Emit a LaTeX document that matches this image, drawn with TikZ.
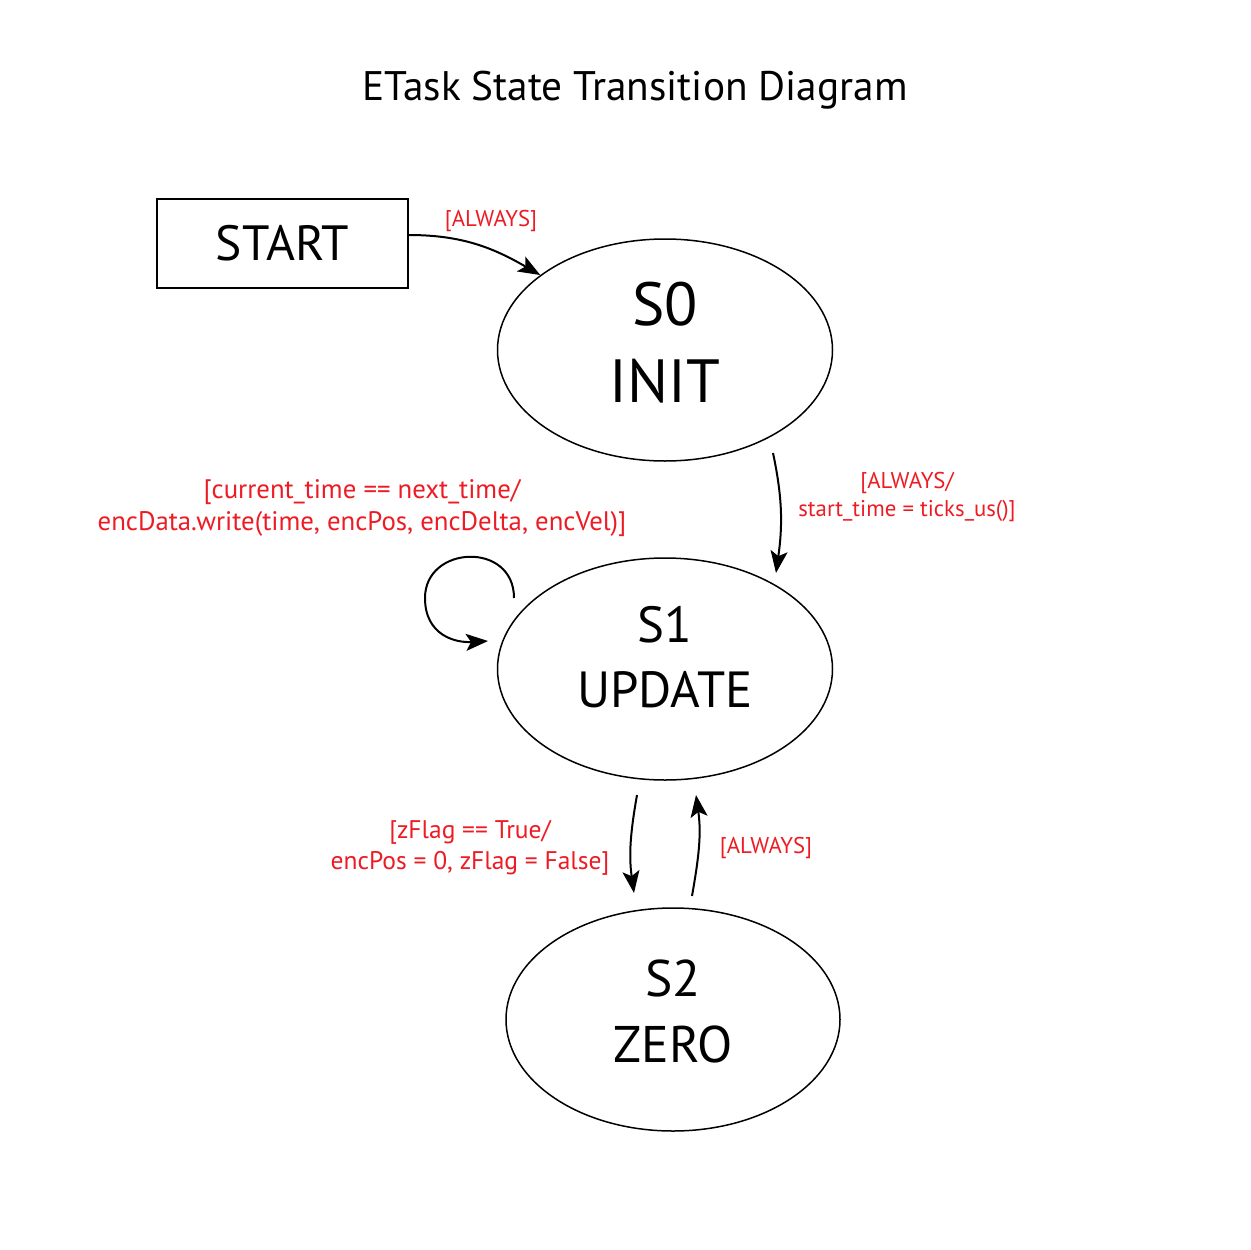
\documentclass[tikz,border=0pt]{standalone}
\usepackage{fontspec}
\setmainfont{PT Sans}
\usetikzlibrary{shapes.geometric,arrows.meta,calc}
\definecolor{lblred}{RGB}{237,28,36}
\newcommand{\stxt}[3]{\raisebox{#1}[0pt][0pt]{\begin{tabular}[t]{@{}c@{}}#2\\#3\end{tabular}}}
\begin{document}
\begin{tikzpicture}[x=1pt,y=1pt,
  state/.style={draw,line width=1.5pt,ellipse,minimum width=335pt,minimum height=222pt,inner sep=0pt},
  startbox/.style={draw,line width=1.5pt,rectangle,minimum width=251pt,minimum height=89pt,inner sep=0pt,font=\fontsize{49.5}{60}\selectfont},
  trans/.style={line width=2pt,-{Stealth[length=22pt,width=17pt,inset=5pt]}},
  lbl/.style={text=lblred,align=center,inner sep=0pt},
  lblbig/.style={lbl,font=\fontsize{26.8}{32}\selectfont},
  lblsmall/.style={lbl,font=\fontsize{22.8}{28}\selectfont}]
\useasboundingbox (0,0) rectangle (1250,-1250);
\fill[white] (0,0) rectangle (1250,-1250);
\node[font=\fontsize{41.3}{48}\selectfont] (title) at (635,-90) {ETask State Transition Diagram};
\node[startbox] (start) at (282.5,-243.5) {\raisebox{2pt}{START}};
\node[state,font=\fontsize{61}{77}\selectfont] (s0) at (665,-350) {\stxt{25pt}{S0}{INIT}};
\node[state,font=\fontsize{50.8}{65}\selectfont] (s1) at (665,-669) {\stxt{27pt}{S1}{UPDATE}};
\node[state,minimum width=334pt,minimum height=223pt,font=\fontsize{51.5}{66}\selectfont] (s2) at (673,-1019.5) {\stxt{23.5pt}{S2}{ZERO}};
% connectors
\draw[trans] ($(start.east)+(0,8.5)$) to[out=0,in=150] (s0.149.7);
\draw[trans] ($(s0.center)+(108,-103)$) to[out=-78,in=82] ($(s1.center)+(111,96)$);
\draw[trans] ($(s1.center)+(-151,71)$) .. controls ($(s1.center)+(-151,128)$) and ($(s1.center)+(-240,124)$) .. ($(s1.center)+(-240,71)$) .. controls ($(s1.center)+(-240,34)$) and ($(s1.center)+(-210,26)$) .. ($(s1.center)+(-177,28)$);
\draw[trans] ($(s1.center)+(-28,-126)$) to[out=-100,in=98] ($(s2.center)+(-39,126.5)$);
\draw[trans] ($(s2.center)+(19,123.5)$) to[out=80,in=-82] ($(s1.center)+(31,-126)$);
% labels
\node[lblsmall] (l1) at (491,-221) {[ALWAYS]};
\node[lblsmall] (l2) at (907,-497) {[ALWAYS/\\start\_time = ticks\_us()]};
\node[lblbig] (l3) at (362,-508) {[current\_time == next\_time/\\encData.write(time, encPos, encDelta, encVel)]};
\node[lblbig,font=\fontsize{25.5}{31}\selectfont] (l4) at (470,-847.5) {[zFlag == True/\\encPos = 0, zFlag = False]};
\node[lblsmall] (l5) at (766,-848) {[ALWAYS]};
\end{tikzpicture}
\end{document}
